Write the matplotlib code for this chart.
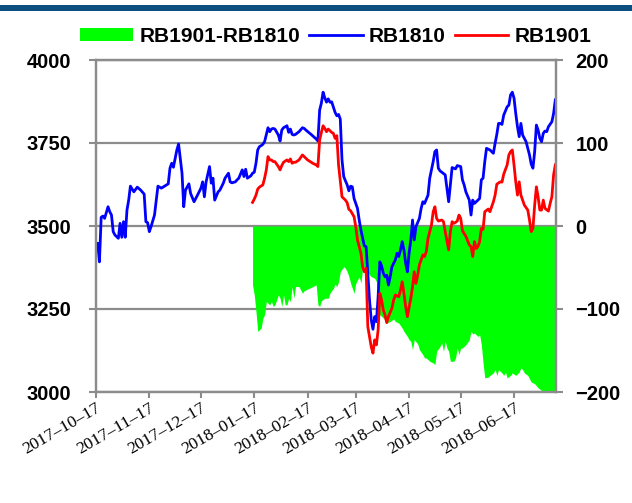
import matplotlib
matplotlib.use('Agg')
import matplotlib.pyplot as plt
import matplotlib.dates as mdates
from matplotlib.patches import Rectangle, Patch
from matplotlib.lines import Line2D
import pandas as pd

# ---------------- data (days since 2017-10-17) ----------------
start_date = '2017-10-17'

rb1810_days = [0, 1, 2, 3, 4, 5, 7, 8, 9, 10, 11, 13, 14, 15, 16, 17, 18, 19, 20, 22,
               24, 26, 28, 29, 30, 31, 32, 34, 36, 38, 42, 43, 44, 45, 47, 48, 50, 51, 52, 54,
               55, 57, 59, 61, 62, 63, 64, 66, 67, 68, 69, 71, 72, 74, 75, 77, 78, 79, 81, 82,
               83, 85, 86, 87, 88, 90, 91, 92, 93, 94, 95, 96, 97, 98, 100, 101, 102, 103, 104, 106,
               107, 108, 109, 111, 112, 113, 114, 115, 116, 118, 120, 121, 122, 125, 128, 129, 130, 131, 132, 133,
               134, 135, 136, 137, 139, 140, 141, 142, 143, 144, 145, 146, 147, 148, 149, 150, 152, 153, 154, 155,
               156, 157, 158, 159, 160, 161, 162, 163, 164, 165, 166, 167, 168, 169, 170, 171, 172, 174, 175, 176,
               177, 178, 179, 180, 181, 182, 183, 184, 185, 186, 188, 189, 190, 191, 193, 194, 196, 197, 198, 199,
               200, 201, 203, 204, 205, 206, 207, 208, 209, 210, 212, 213, 214, 215, 217, 218, 219, 220, 221, 223,
               224, 225, 226, 227, 229, 231, 232, 233, 234, 235, 236, 237, 239, 240, 241, 242, 243, 244, 245, 246,
               247, 248, 249, 250, 251, 252, 253, 254, 255, 256, 257, 258, 259, 260, 261, 262, 263, 265, 266, 267]
rb1810_vals = [3438, 3448, 3392, 3526, 3530, 3523, 3558, 3543, 3533, 3483, 3473, 3463, 3508, 3466, 3513, 3466, 3548, 3578, 3620, 3603,
               3617, 3608, 3596, 3513, 3510, 3483, 3498, 3533, 3620, 3614, 3627, 3674, 3689, 3677, 3729, 3747, 3659, 3558, 3608, 3627,
               3598, 3573, 3593, 3614, 3633, 3588, 3633, 3679, 3629, 3644, 3578, 3603, 3608, 3629, 3644, 3659, 3633, 3630, 3633, 3639,
               3644, 3669, 3649, 3671, 3644, 3651, 3659, 3662, 3689, 3729, 3739, 3742, 3746, 3754, 3796, 3784, 3792, 3794, 3792, 3774,
               3756, 3789, 3796, 3802, 3782, 3792, 3776, 3774, 3776, 3784, 3796, 3794, 3789, 3776, 3762, 3756, 3849, 3870, 3903, 3886,
               3873, 3883, 3873, 3874, 3842, 3832, 3836, 3822, 3699, 3649, 3636, 3624, 3606, 3620, 3618, 3583, 3553, 3518, 3488, 3463,
               3440, 3438, 3358, 3277, 3217, 3189, 3227, 3212, 3287, 3392, 3380, 3358, 3347, 3352, 3322, 3347, 3377, 3398, 3418, 3408,
               3428, 3453, 3428, 3388, 3362, 3418, 3458, 3518, 3458, 3498, 3523, 3553, 3573, 3568, 3593, 3644, 3694, 3724, 3729, 3674,
               3666, 3662, 3654, 3614, 3573, 3624, 3676, 3674, 3672, 3682, 3679, 3639, 3624, 3603, 3578, 3533, 3578, 3568, 3573, 3583,
               3639, 3644, 3694, 3734, 3729, 3719, 3749, 3776, 3809, 3809, 3806, 3834, 3859, 3864, 3895, 3903, 3885, 3839, 3799, 3769,
               3809, 3774, 3764, 3754, 3734, 3714, 3686, 3674, 3724, 3804, 3789, 3764, 3754, 3779, 3786, 3784, 3799, 3814, 3839, 3880]

rb1901_days = [91, 92, 93, 94, 95, 97, 98, 99, 100, 101, 102, 103, 104, 106, 107, 108, 109, 111, 112, 113,
               114, 115, 116, 118, 120, 121, 123, 126, 128, 129, 130, 131, 132, 133, 134, 135, 137, 138, 139, 140,
               141, 143, 145, 146, 147, 148, 150, 151, 152, 154, 155, 156, 157, 158, 159, 160, 161, 162, 163, 164,
               165, 166, 167, 168, 169, 170, 172, 173, 174, 176, 177, 178, 179, 180, 181, 183, 184, 185, 186, 187,
               188, 190, 191, 192, 193, 195, 196, 197, 198, 199, 201, 202, 203, 205, 206, 207, 208, 209, 210, 211,
               212, 213, 215, 217, 218, 219, 220, 221, 222, 223, 224, 225, 226, 228, 229, 231, 232, 233, 235, 236,
               237, 239, 240, 241, 242, 243, 244, 245, 246, 247, 248, 249, 251, 252, 253, 254, 255, 256, 257, 258,
               259, 260, 261, 263, 264, 265, 266, 267]
rb1901_vals = [3571, 3581, 3593, 3611, 3617, 3624, 3644, 3669, 3709, 3699, 3699, 3694, 3694, 3679, 3669, 3682, 3692, 3699, 3694, 3702,
               3689, 3692, 3692, 3699, 3714, 3709, 3699, 3689, 3684, 3679, 3759, 3782, 3802, 3794, 3784, 3792, 3782, 3779, 3764, 3772,
               3684, 3588, 3578, 3570, 3550, 3546, 3528, 3498, 3458, 3418, 3377, 3362, 3373, 3197, 3167, 3136, 3117, 3157, 3142, 3187,
               3297, 3277, 3247, 3232, 3209, 3227, 3252, 3277, 3292, 3287, 3307, 3332, 3297, 3257, 3227, 3282, 3317, 3362, 3327, 3352,
               3383, 3413, 3408, 3423, 3463, 3503, 3543, 3558, 3523, 3515, 3518, 3513, 3483, 3428, 3483, 3513, 3508, 3511, 3515, 3533,
               3523, 3486, 3469, 3443, 3438, 3408, 3453, 3432, 3438, 3453, 3493, 3490, 3543, 3551, 3543, 3573, 3593, 3626, 3633, 3632,
               3656, 3684, 3714, 3724, 3729, 3684, 3633, 3593, 3633, 3593, 3578, 3563, 3548, 3518, 3483, 3493, 3563, 3618, 3588, 3548,
               3548, 3578, 3553, 3545, 3568, 3588, 3654, 3684]

spread_days = [91, 92, 93, 94, 96, 97, 98, 99, 101, 102, 103, 104, 106, 107, 108, 109, 110, 111, 112, 113,
               114, 115, 116, 118, 120, 121, 123, 126, 128, 129, 130, 131, 133, 135, 136, 138, 139, 140, 141, 142,
               144, 145, 146, 147, 148, 150, 151, 152, 153, 154, 155, 156, 157, 158, 159, 160, 162, 163, 164, 166,
               168, 169, 171, 173, 174, 176, 178, 179, 181, 182, 183, 184, 185, 187, 188, 190, 191, 192, 194, 196,
               197, 198, 200, 201, 202, 203, 204, 205, 206, 208, 209, 210, 211, 212, 213, 215, 217, 218, 219, 220,
               222, 223, 224, 225, 226, 228, 229, 231, 232, 233, 234, 236, 237, 238, 239, 241, 242, 244, 246, 247,
               248, 249, 251, 253, 255, 257, 259, 261, 265, 267]
spread_vals = [-71, -83, -103, -127, -123, -111, -107, -91, -95, -91, -97, -95, -83, -87, -97, -83, -95, -95, -87, -91,
               -73, -87, -73, -73, -81, -78, -76, -73, -71, -95, -97, -90, -87, -87, -81, -75, -70, -73, -67, -55,
               -49, -51, -55, -61, -69, -81, -69, -65, -61, -69, -51, -49, -53, -55, -59, -61, -63, -67, -105, -109,
               -113, -117, -115, -112, -115, -117, -123, -127, -133, -137, -139, -149, -137, -142, -149, -155, -159, -159, -163, -165,
               -167, -151, -145, -141, -151, -139, -147, -151, -163, -163, -159, -147, -155, -147, -147, -143, -137, -127, -130, -129,
               -133, -131, -143, -165, -183, -182, -180, -177, -173, -180, -173, -177, -180, -176, -183, -180, -177, -180, -176, -171,
               -173, -177, -180, -188, -190, -195, -198, -202, -203, -203]

series_labels = ['RB1901-RB1810', 'RB1810', 'RB1901']
left_ticks = [3000, 3250, 3500, 3750, 4000]
right_ticks = [-200, -100, 0, 100, 200]

# ---------------- drawing ----------------
start = pd.Timestamp(start_date)


def to_dates(days):
    return start + pd.to_timedelta(days, unit='D')


GRAY = '#8c8c8c'
SANS = 'Liberation Sans'
SERIF = 'Liberation Serif'

fig = plt.figure(figsize=(6.32, 5.03), dpi=100)
fig.add_artist(Rectangle((0, 1 - 10.5 / 503), 1, 5 / 503, transform=fig.transFigure,
                         facecolor='#0B4F80', edgecolor='none'))

ax = fig.add_axes([96 / 632, 1 - 392 / 503, 460 / 632, 332 / 503])
ax2 = ax.twinx()
ax.set_zorder(ax2.get_zorder() + 1)
ax.patch.set_visible(False)

# spread (right axis) below
ax2.fill_between(to_dates(spread_days), spread_vals, 0, color='#00FF00', lw=0, zorder=2)
ax2.set_ylim(-200, 200)
ax2.set_yticks(right_ticks)
ax2.set_axisbelow(True)
ax2.grid(axis='y', color=GRAY, lw=1.6)

# prices (left axis) above
ax.plot(to_dates(rb1810_days), rb1810_vals, color='#0000FF', lw=2.0)
ax.plot(to_dates(rb1901_days), rb1901_vals, color='#FF0000', lw=2.0)
ax.set_ylim(3000, 4000)
ax.set_yticks(left_ticks)
ax.set_xlim(start, start + pd.Timedelta(days=267.4))
ax.xaxis.set_major_locator(mdates.MonthLocator(bymonthday=17))
ax.xaxis.set_major_formatter(mdates.DateFormatter('%Y\u2013%m\u2013%d'))

for a in (ax, ax2):
    for s in a.spines.values():
        s.set_color(GRAY)
        s.set_linewidth(1.6)

ax.tick_params(axis='y', direction='out', length=5, width=1.5, color=GRAY, pad=13,
               labelsize=14.5)
ax2.tick_params(axis='y', direction='out', length=5, width=1.5, color=GRAY, pad=9,
                labelsize=14.5)
ax.tick_params(axis='x', direction='out', length=4, width=1.5, color=GRAY, pad=2)
ax2.tick_params(axis='x', bottom=False, labelbottom=False)

for lab in ax.get_yticklabels() + ax2.get_yticklabels():
    lab.set_fontfamily(SANS)
    lab.set_fontweight('bold')
for lab in ax.get_xticklabels():
    lab.set_fontfamily(SERIF)
    lab.set_fontsize(12.5)
    lab.set_rotation(30)
    lab.set_ha('right')
    lab.set_rotation_mode('anchor')

handles = [Patch(facecolor='#00FF00', edgecolor='none'),
           Line2D([], [], color='#0000FF', lw=2.0),
           Line2D([], [], color='#FF0000', lw=2.0)]
fig.legend(handles, series_labels, loc='center', bbox_to_anchor=(0.531, 1 - 36.5 / 503),
           ncol=3, frameon=False, prop={'family': SANS, 'weight': 'bold', 'size': 15},
           handlelength=2.55, handleheight=0.6, handletextpad=0.3, columnspacing=0.45,
           borderpad=0, borderaxespad=0)

fig.savefig('out.png', dpi=100)
